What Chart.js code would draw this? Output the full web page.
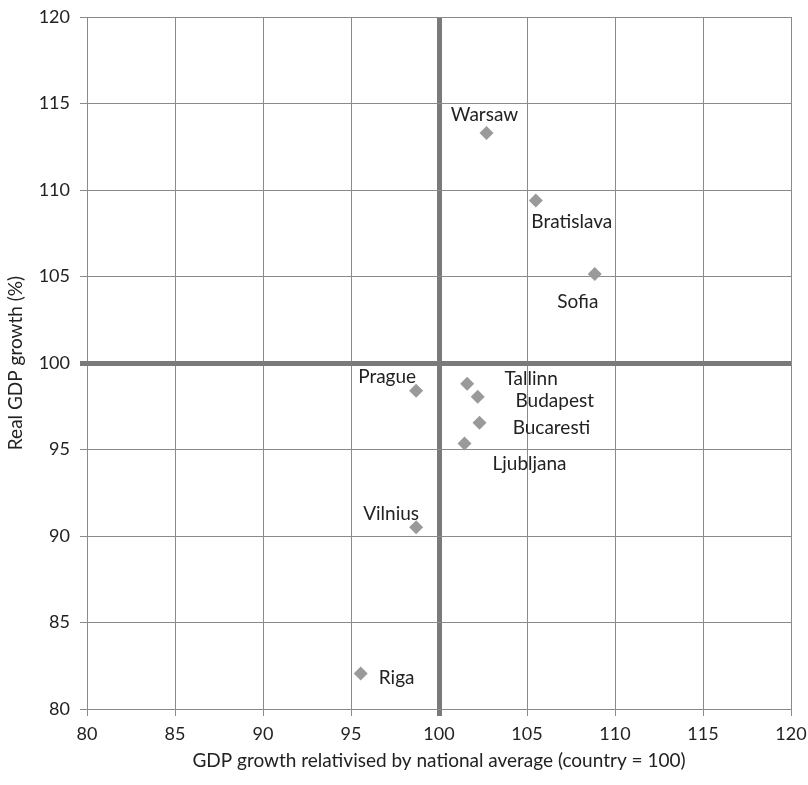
<!DOCTYPE html>
<html>
<head>
<meta charset="utf-8">
<script src="https://cdn.jsdelivr.net/npm/chart.js@4/dist/chart.umd.min.js"></script>
<style>
    html, body { margin: 0; padding: 0; background: #fff; }
    #wrap { width: 808px; height: 785px; }
</style>
</head>
<body>
<div id="wrap"><canvas id="gdpChart"></canvas></div>
<script>
"use strict";

// city names and their values
const cities      = ["Warsaw", "Bratislava", "Sofia", "Prague", "Tallinn", "Budapest", "Bucaresti", "Ljubljana", "Vilnius", "Riga"];
const relGrowth   = [102.7, 105.5, 108.85, 98.7, 101.6, 102.2, 102.3, 101.45, 98.7, 95.55];
const realGrowth  = [113.3, 109.4, 105.15, 98.4, 98.8, 98.05, 96.55, 95.35, 90.5, 82.05];
const xTicks      = [80, 85, 90, 95, 100, 105, 110, 115, 120];
const yTicks      = [80, 85, 90, 95, 100, 105, 110, 115, 120];

// where each label sits relative to its marker (pixels)
const labelOffsets = {
    Warsaw:     [-2, -18],
    Bratislava: [36, 21],
    Sofia:      [-17, 28],
    Prague:     [-29, -14],
    Tallinn:    [64, -5],
    Budapest:   [77, 4],
    Bucaresti:  [72, 5],
    Ljubljana:  [65, 20],
    Vilnius:    [-25, -13],
    Riga:       [36, 4]
};

const FONT = "Lato, 'Open Sans', sans-serif";

const pointLabels = {
    id: "pointLabels",
    afterDatasetsDraw(chart)
    {
        const ctx  = chart.ctx;
        const meta = chart.getDatasetMeta(0);
        ctx.save();
        ctx.font         = "19px " + FONT;
        ctx.fillStyle    = "#222";
        ctx.textAlign    = "center";
        ctx.textBaseline = "middle";
        meta.data.forEach((pt, i) =>
        {
            const off = labelOffsets[cities[i]] || [0, -16];
            ctx.fillText(cities[i], pt.x + off[0], pt.y + off[1]);
        });
        ctx.restore();
    }
};

const gridColor = c => c.tick && c.tick.value === 100 ? "#7a7a7a" : "#8a8a8a";
const gridWidth = c => c.tick && c.tick.value === 100 ? 5 : 1;

new Chart(document.getElementById("gdpChart").getContext("2d"), {
    type:    "scatter",
    data:    {
        datasets: [
            {
                data:             cities.map((c, i) => ({x: relGrowth[i], y: realGrowth[i]})),
                pointStyle:       "rectRot",
                pointRadius:      7,
                backgroundColor:  "#9a9a9a",
                borderColor:      "#9a9a9a",
                borderWidth:      0
            }
        ]
    },
    options: {
        responsive:          true,
        maintainAspectRatio: false,
        animation:           false,
        layout:              {
            padding: {top: 17, right: 17, left: 0, bottom: 0}
        },
        scales:  {
            x: {
                type:        "linear",
                min:         80,
                max:         120,
                afterBuildTicks: axis => { axis.ticks = xTicks.map(v => ({value: v})); },
                afterFit:    axis =>
                             {
                                 axis.height       = 76;
                                 axis.paddingLeft  = 0;
                                 axis.paddingRight = 0;
                             },
                grid:        {color: gridColor, lineWidth: gridWidth, tickLength: 7, drawTicks: true},
                border:      {display: false},
                ticks:       {color: "#222", font: {size: 18, family: FONT}, padding: 7},
                title:       {
                    display: true,
                    text:    "GDP growth relativised by national average (country = 100)",
                    color:   "#222",
                    font:    {size: 19, family: FONT},
                    padding: {top: 4, bottom: 13}
                }
            },
            y: {
                type:        "linear",
                min:         80,
                max:         120,
                afterBuildTicks: axis => { axis.ticks = yTicks.map(v => ({value: v})); },
                afterFit:    axis =>
                             {
                                 axis.width         = 87;
                                 axis.paddingTop    = 0;
                                 axis.paddingBottom = 0;
                             },
                grid:        {color: gridColor, lineWidth: gridWidth, tickLength: 7, drawTicks: true},
                border:      {display: false},
                ticks:       {color: "#222", font: {size: 18, family: FONT}, padding: 10},
                title:       {
                    display: true,
                    text:    "Real GDP growth (%)",
                    color:   "#222",
                    font:    {size: 19, family: FONT},
                    padding: {top: 4, bottom: 4}
                }
            }
        },
        plugins: {
            legend:  {display: false},
            tooltip: {enabled: false}
        }
    },
    plugins: [pointLabels]
});
</script>
</body>
</html>
